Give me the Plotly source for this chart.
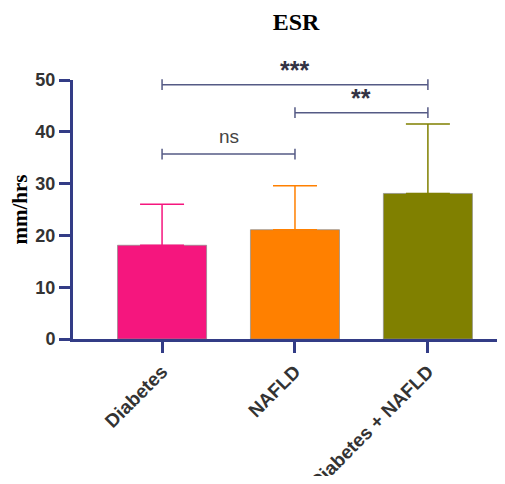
import plotly.graph_objects as go

categories = ["Diabetes", "NAFLD", "Diabetes + NAFLD"]
means = [18.1, 21.1, 28.1]
upper = [26.0, 29.6, 41.5]
colors = ["#F5167E", "#FF8000", "#808000"]
y_ticks = [0, 10, 20, 30, 40, 50]
y_max = 50
# significance brackets: (from index, to index, y level, label, label y)
brackets = [
    (0, 2, 49.1, "***", 52.0),
    (1, 2, 43.7, "**", 46.6),
    (0, 1, 35.7, "ns", 39.0),
]

axis_color = "#333C86"
bracket_color = "#555A85"

fig = go.Figure()
fig.add_trace(go.Bar(
    x=list(range(len(categories))),
    y=means,
    width=0.67,
    marker=dict(color=colors, line=dict(color="rgba(140,140,140,0.7)", width=1)),
    showlegend=False,
))
# per-bar error bars (upper only) with matching colors
for i, (m, u, c) in enumerate(zip(means, upper, colors)):
    fig.add_trace(go.Scatter(
        x=[i], y=[m], mode="markers",
        marker=dict(size=0.1, color="rgba(0,0,0,0)"),
        error_y=dict(type="data", symmetric=False, array=[u - m], arrayminus=[0],
                     color=c, thickness=1.5, width=22),
        showlegend=False, hoverinfo="skip",
    ))

shapes = []
annotations = []
for a, b, yv, lab, ly in brackets:
    shapes.append(dict(type="line", xref="x", yref="paper", x0=a, x1=b,
                       y0=yv / y_max, y1=yv / y_max,
                       line=dict(color=bracket_color, width=1.5)))
    for xe in (a, b):
        shapes.append(dict(type="line", xref="x", yref="paper", x0=xe, x1=xe,
                           y0=(yv - 1.05) / y_max, y1=(yv + 1.05) / y_max,
                           line=dict(color=bracket_color, width=1.5)))
    is_ns = lab == "ns"
    annotations.append(dict(
        x=(a + b) / 2, y=ly / y_max, xref="x", yref="paper",
        text=lab if is_ns else "<b>" + lab + "</b>",
        showarrow=False, yanchor="middle",
        font=dict(family="Liberation Sans, Arial", size=19 if is_ns else 25,
                  color="#444444" if is_ns else "#333344"),
    ))

# page body adds an 8px offset; layout compensates so the plot lands where the reference has it
W = 497
H = 468
fig.update_layout(
    width=W, height=H,
    margin=dict(l=65, r=0, t=72, b=137),
    plot_bgcolor="white", paper_bgcolor="white",
    title=dict(text="<b>ESR</b>", x=288 / W, xanchor="center", y=1 - 14 / H, yanchor="middle",
               font=dict(family="Liberation Serif, Times New Roman", size=24, color="black")),
    shapes=shapes,
    annotations=annotations,
)
fig.update_xaxes(
    range=[-0.67, 2.58], automargin=False,
    tickmode="array", tickvals=list(range(len(categories))),
    ticktext=["<b>" + c + "</b>" for c in categories],
    tickangle=-45,
    showline=True, linecolor=axis_color, linewidth=3,
    ticks="outside", ticklen=11, tickwidth=3, tickcolor=axis_color,
    showgrid=False, zeroline=False,
    tickfont=dict(family="Liberation Sans, Arial", size=19, color="#333333"),
)
fig.update_yaxes(
    range=[0, y_max], automargin=False,
    tickmode="array", tickvals=y_ticks, ticktext=["<b>%d</b>" % t for t in y_ticks],
    showline=True, linecolor=axis_color, linewidth=3,
    ticks="outside", ticklen=11, tickwidth=3, tickcolor=axis_color,
    showgrid=False, zeroline=False,
    tickfont=dict(family="Liberation Sans, Arial", size=18, color="#333333"),
    title=dict(text="<b>mm/hrs</b>", standoff=6,
               font=dict(family="Liberation Serif, Times New Roman", size=21, color="black")),
)

fig.write_html("out.html")
